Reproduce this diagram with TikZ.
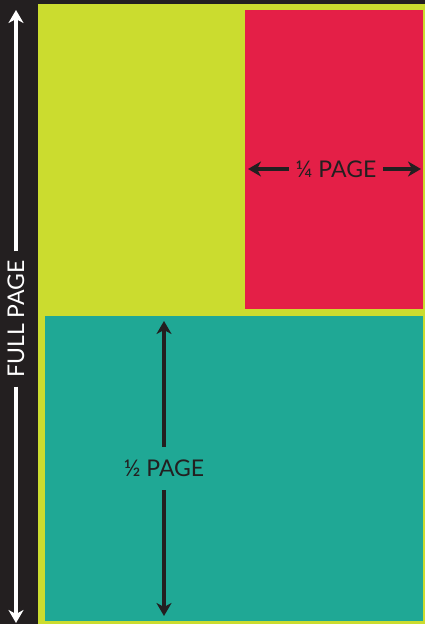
\documentclass[tikz,border=0pt]{standalone}
\usepackage{fontspec}
\setmainfont{Lato}
\usetikzlibrary{arrows.meta}
\definecolor{inkdark}{HTML}{231F20}
\definecolor{limebg}{HTML}{CBDC2F}
\definecolor{redbox}{HTML}{E41F47}
\definecolor{tealbox}{HTML}{1FA895}
\tikzset{
  panel/.style={anchor=north west, inner sep=0pt, draw=none},
  lbl/.style={font=\fontsize{23}{23}\selectfont, inner sep=0pt},
  dimarrow/.style={line width=3.6pt, -{Stealth[length=13pt,width=15pt,inset=4pt]}},
}
\begin{document}
\begin{tikzpicture}[x=1pt,y=-1pt]
\useasboundingbox (0,0) rectangle (425,624);
\fill[inkdark] (0,0) rectangle (425,624);
\node[panel, fill=limebg, minimum width=387pt, minimum height=620pt] (page) at (38,4) {};
\node[panel, fill=redbox, minimum width=178pt, minimum height=299pt] (quarter) at (245,10) {};
\node[panel, fill=tealbox, minimum width=378pt, minimum height=305pt] (half) at (45,316) {};
% full page
\node[lbl, text=white, rotate=90, minimum width=135pt] (fulltxt) at (16,319) {FULL PAGE};
\coordinate (fulltop) at (16,10);
\coordinate (fullbot) at (16,623);
\draw[dimarrow, white] (fulltxt.east) -- (fulltop);
\draw[dimarrow, white] (fulltxt.west) -- (fullbot);
% quarter page
\node[lbl, text=inkdark, minimum width=94pt] (qtxt) at (336,169) {¼ PAGE};
\coordinate (qleft) at (248,169);
\coordinate (qright) at (421,169);
\draw[dimarrow, inkdark] (qtxt.west) -- (qleft);
\draw[dimarrow, inkdark] (qtxt.east) -- (qright);
% half page
\node[lbl, text=inkdark, minimum height=43pt] (htxt) at (164,468.5) {½ PAGE};
\coordinate (htop) at (164,321);
\coordinate (hbot) at (164,616);
\draw[dimarrow, inkdark] (htxt.north -| htop) -- (htop);
\draw[dimarrow, inkdark] (htxt.south -| hbot) -- (hbot);
\end{tikzpicture}
\end{document}
